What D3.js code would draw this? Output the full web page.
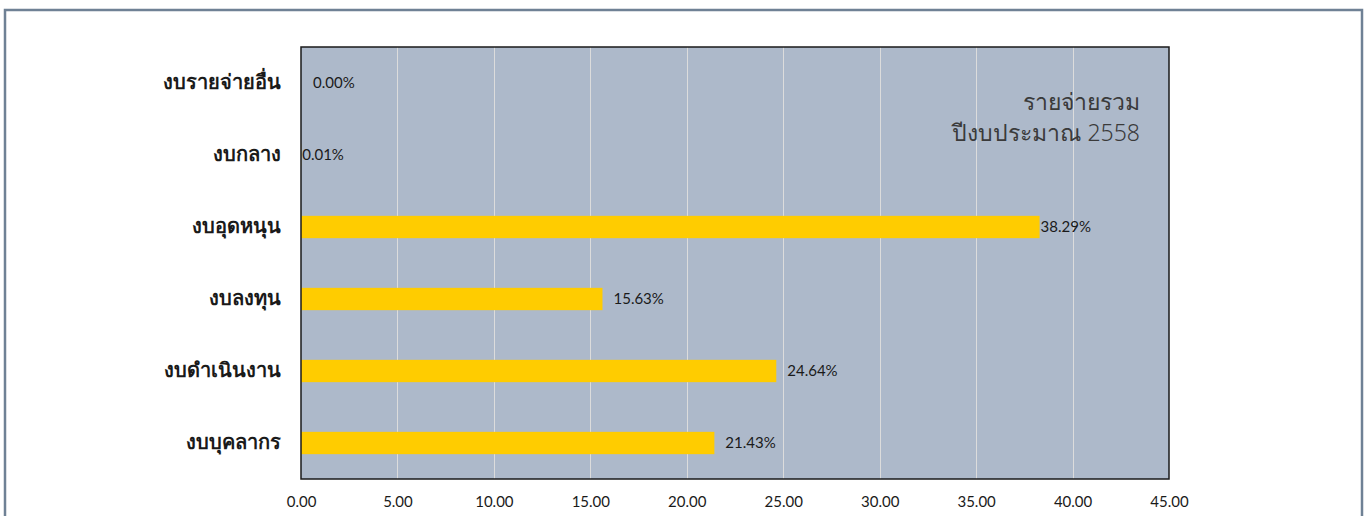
<!DOCTYPE html>
<html>
<head>
<meta charset="utf-8">
<script src="https://cdn.jsdelivr.net/npm/d3@7"></script>
<style>
  html, body { margin: 0; padding: 0; background: #ffffff; }
  svg { display: block; }
</style>
</head>
<body>
<svg id="chart" width="1370" height="516"></svg>
<script>
// Budget categories (bottom to top) and their share of total expenditure, %
const categories = ["งบบุคลากร", "งบดำเนินงาน", "งบลงทุน", "งบอุดหนุน", "งบกลาง", "งบรายจ่ายอื่น"];
const shares = [21.43, 24.64, 15.63, 38.29, 0.01, 0.00];
const xTicks = [0, 5, 10, 15, 20, 25, 30, 35, 40, 45];
const titleLines = ["รายจ่ายรวม", "ปีงบประมาณ 2558"];

// horizontal pixel nudge for each value label
const labelNudge = [11, 11, 11, 1, 1, 12];

const svg = d3.select("#chart");
const W = 1370, H = 516;

// outer frame
svg.append("rect")
  .attr("x", 5).attr("y", 10)
  .attr("width", 1357).attr("height", H)
  .attr("fill", "#ffffff")
  .attr("stroke", "#6f8195").attr("stroke-width", 2.5);

const plot = { left: 301, top: 47, right: 1169, bottom: 479 };

const x = d3.scaleLinear().domain([0, 45]).range([plot.left, plot.right]);
const y = d3.scaleBand()
  .domain(categories.slice().reverse())
  .range([plot.top, plot.bottom])
  .paddingInner(0.69).paddingOuter(0.345);

// plot background
svg.append("rect")
  .attr("x", plot.left).attr("y", plot.top)
  .attr("width", plot.right - plot.left).attr("height", plot.bottom - plot.top)
  .attr("fill", "#adb9ca");

// vertical gridlines
svg.append("g")
  .selectAll("line")
  .data(xTicks.filter(d => d > 0 && d < 45))
  .join("line")
  .attr("x1", d => Math.round(x(d)) + 0.5).attr("x2", d => Math.round(x(d)) + 0.5)
  .attr("y1", plot.top).attr("y2", plot.bottom)
  .attr("stroke", "#dcdcdc").attr("stroke-width", 1);

// bars
const data = categories.map((c, i) => ({ cat: c, v: shares[i], nudge: labelNudge[i] }));
svg.append("g")
  .selectAll("rect")
  .data(data)
  .join("rect")
  .attr("x", x(0))
  .attr("y", d => y(d.cat))
  .attr("width", d => x(d.v) - x(0))
  .attr("height", y.bandwidth())
  .attr("fill", "#ffcc00");

// value labels
svg.append("g")
  .selectAll("text")
  .data(data)
  .join("text")
  .attr("x", d => x(d.v) + d.nudge)
  .attr("y", d => y(d.cat) + y.bandwidth() / 2)
  .attr("dy", "0.35em")
  .attr("font-family", "Lato, 'Open Sans', sans-serif")
  .attr("font-size", 15)
  .attr("fill", "#1a1a1a")
  .text(d => d.v.toFixed(2) + "%");

// plot border
svg.append("rect")
  .attr("x", plot.left).attr("y", plot.top)
  .attr("width", plot.right - plot.left).attr("height", plot.bottom - plot.top)
  .attr("fill", "none")
  .attr("stroke", "#1a1a1a").attr("stroke-width", 1.5);

// x axis tick labels
const xAxis = d3.axisBottom(x)
  .tickValues(xTicks)
  .tickSize(0)
  .tickPadding(17)
  .tickFormat(d3.format(".2f"));
const gx = svg.append("g")
  .attr("transform", `translate(0,${plot.bottom})`)
  .call(xAxis);
gx.select(".domain").remove();
gx.selectAll("text")
  .attr("font-family", "Lato, 'Open Sans', sans-serif")
  .attr("font-size", 15)
  .attr("fill", "#1a1a1a");

// category labels
const yAxis = d3.axisLeft(y).tickSize(0).tickPadding(20);
const gy = svg.append("g")
  .attr("transform", `translate(${plot.left},0)`)
  .call(yAxis);
gy.select(".domain").remove();
gy.selectAll("text")
  .attr("font-family", "'Noto Sans', 'DejaVu Sans', sans-serif")
  .attr("font-size", 20)
  .attr("font-weight", "bold")
  .attr("fill", "#1a1a1a");

// chart title, top right inside plot
svg.append("g")
  .selectAll("text")
  .data(titleLines)
  .join("text")
  .attr("x", 1140)
  .attr("y", (d, i) => 110 + i * 31)
  .attr("text-anchor", "end")
  .attr("font-family", "'Noto Sans', 'DejaVu Sans', sans-serif")
  .attr("font-size", 23)
  .attr("font-weight", 300)
  .attr("fill", "#3a3a3a")
  .text(d => d);
</script>
</body>
</html>
